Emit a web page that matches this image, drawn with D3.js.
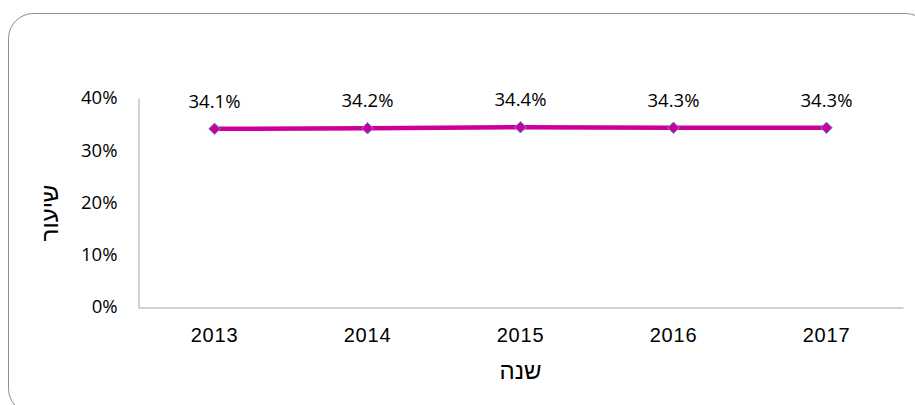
<!DOCTYPE html>
<html>
<head>
<meta charset="utf-8">
<script src="https://cdn.jsdelivr.net/npm/d3@7"></script>
<style>
  html, body { margin: 0; padding: 0; background: #fff; }
  svg { display: block; }
</style>
</head>
<body>
<div id="chart"></div>
<script>
// data
var years  = ['2013', '2014', '2015', '2016', '2017'];
var rates  = [0.341, 0.342, 0.344, 0.343, 0.343];
var yTicks = [0, 0.1, 0.2, 0.3, 0.4];
var xTitle = 'שנה';
var yTitle = 'שיעור';

var W = 915, H = 405;
var plot = { left: 138, right: 903, top: 98, bottom: 307 };

var svg = d3.select('#chart').append('svg')
  .attr('width', W)
  .attr('height', H);

// outer chart frame (rounded, runs off the bottom/right edge)
svg.append('rect')
  .attr('x', 8.5).attr('y', 13.5)
  .attr('width', 922).attr('height', 400)
  .attr('rx', 25).attr('ry', 25)
  .attr('fill', '#fff')
  .attr('stroke', '#8c8c8c')
  .attr('stroke-width', 1);

var x = d3.scaleBand().domain(years).range([plot.left, plot.right]);
var y = d3.scaleLinear().domain([0, 0.4]).range([plot.bottom, plot.top]);
var fmtTick = d3.format('.0%');
var fmtLbl  = d3.format('.1%');

// y axis
var yAxis = svg.append('g')
  .attr('transform', 'translate(' + (plot.left + 0.5) + ',0)')
  .call(d3.axisLeft(y).tickValues(yTicks).tickFormat(fmtTick).tickSize(0).tickPadding(21));
yAxis.select('.domain').attr('stroke', '#a6a6a6');
yAxis.selectAll('text')
  .attr('font-family', '"Open Sans", "Noto Sans", sans-serif')
  .attr('font-size', 18.5)
  .attr('fill', '#000');

// x axis
var xAxis = svg.append('g')
  .attr('transform', 'translate(0,' + (plot.bottom + 0.5) + ')')
  .call(d3.axisBottom(x).tickSize(0).tickPadding(20));
xAxis.select('.domain').attr('stroke', '#a6a6a6');
xAxis.selectAll('text')
  .attr('font-family', '"Liberation Sans", Arial, sans-serif')
  .attr('font-size', 20)
  .attr('letter-spacing', 0.8)
  .attr('fill', '#000');

// axis titles
svg.append('text')
  .attr('x', (plot.left + plot.right) / 2)
  .attr('y', 379)
  .attr('text-anchor', 'middle')
  .attr('font-family', '"Liberation Sans", Arial, sans-serif')
  .attr('font-size', 24)
  .text(xTitle);

svg.append('text')
  .attr('transform', 'translate(58,' + 213 + ') rotate(-90)')
  .attr('text-anchor', 'middle')
  .attr('font-family', '"Liberation Sans", Arial, sans-serif')
  .attr('font-size', 24)
  .text(yTitle);

// line
var line = d3.line()
  .x(function(d, i) { return x(years[i]) + x.bandwidth() / 2; })
  .y(function(d) { return y(d); });

svg.append('path')
  .datum(rates)
  .attr('d', line)
  .attr('fill', 'none')
  .attr('stroke', '#cc0099')
  .attr('stroke-width', 4.5);

// diamond markers
svg.selectAll('path.marker')
  .data(rates)
  .enter()
  .append('path')
  .attr('class', 'marker')
  .attr('d', d3.symbol().type(d3.symbolDiamond2).size(85))
  .attr('transform', function(d, i) {
    return 'translate(' + (x(years[i]) + x.bandwidth() / 2) + ',' + y(d) + ')';
  })
  .attr('fill', '#cc0099')
  .attr('stroke', '#5b9bd5')
  .attr('stroke-width', 1);

// data labels
svg.selectAll('text.lbl')
  .data(rates)
  .enter()
  .append('text')
  .attr('class', 'lbl')
  .attr('x', function(d, i) { return x(years[i]) + x.bandwidth() / 2; })
  .attr('y', function(d) { return y(d) - 21; })
  .attr('text-anchor', 'middle')
  .attr('font-family', '"Open Sans", "Noto Sans", sans-serif')
  .attr('font-size', 18.5)
  .attr('fill', '#000')
  .text(function(d) { return fmtLbl(d); });
</script>
</body>
</html>
